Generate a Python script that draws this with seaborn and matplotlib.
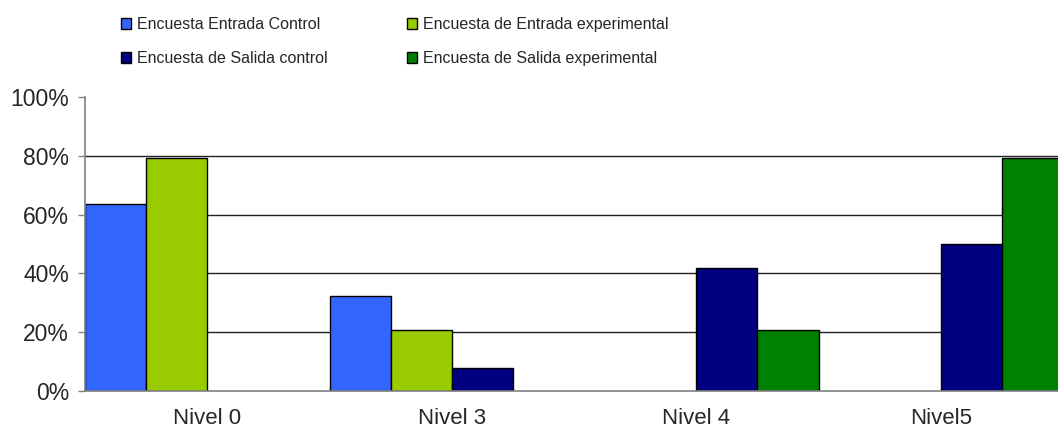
import pandas as pd
import matplotlib.pyplot as plt
import seaborn as sns

sns.set_style('white')
plt.rcParams['font.family'] = ['Liberation Sans', 'DejaVu Sans']

niveles = ['Nivel 0', 'Nivel 3', 'Nivel 4', 'Nivel5']
series = ['Encuesta Entrada Control', 'Encuesta de Entrada experimental',
          'Encuesta de Salida control', 'Encuesta de Salida experimental']
colores = ['#3366FF', '#99CC00', '#000080', '#008000']

# None = no bar for that level
entrada_control = [0.636, 0.324, None, None]
entrada_experimental = [0.792, 0.208, None, None]
salida_control = [None, 0.077, 0.417, 0.50]
salida_experimental = [None, None, 0.208, 0.792]

rows = []
for serie, vals in zip(series, [entrada_control, entrada_experimental,
                                salida_control, salida_experimental]):
    for nivel, v in zip(niveles, vals):
        if v is not None:
            rows.append({'nivel': nivel, 'serie': serie, 'valor': v})
df = pd.DataFrame(rows)

fig = plt.figure(figsize=(10.58, 4.36), dpi=100)
ax = fig.add_axes([85 / 1058, 45 / 436, 978 / 1058, 294 / 436])

sns.barplot(data=df, x='nivel', y='valor', hue='serie', order=niveles,
            hue_order=series, palette=colores, width=1.0, gap=0,
            edgecolor='black', linewidth=1.0, saturation=1, ax=ax, legend=True)

ax.set_xlim(-0.5, 3.5)
ax.set_ylim(0, 1.0)
ax.set_yticks([0, 0.2, 0.4, 0.6, 0.8, 1.0])
ax.set_yticklabels(['0%', '20%', '40%', '60%', '80%', '100%'], fontsize=16.5)
ax.set_xticks(range(4))
ax.set_xticklabels(niveles, fontsize=16)
ax.set_xticks([-0.5, 0.5, 1.5, 2.5, 3.5], minor=True)
ax.tick_params(axis='x', which='major', length=0, pad=12)
ax.tick_params(axis='x', which='minor', length=5, color='#808080', width=1)
ax.tick_params(axis='y', length=5, color='#808080', width=1, pad=6.5, left=True)
ax.set_xlabel('')
ax.set_ylabel('')

ax.yaxis.grid(True, color='#202020', linewidth=1.0)
ax.set_axisbelow(True)
ax.yaxis.get_gridlines()[-1].set_visible(False)
ax.yaxis.get_gridlines()[0].set_visible(False)

for s in ['top', 'right']:
    ax.spines[s].set_visible(False)
for s in ['left', 'bottom']:
    ax.spines[s].set_color('#808080')
    ax.spines[s].set_linewidth(1.2)

handles, labels = ax.get_legend_handles_labels()
ax.get_legend().remove()
order = [0, 2, 1, 3]
fig.legend([handles[i] for i in order], [labels[i] for i in order],
           loc='upper left', bbox_to_anchor=(121 / 1058, 1 - 17 / 436),
           ncol=2, frameon=False, fontsize=11.5, handlelength=0.65,
           handleheight=0.65, handletextpad=0.35, columnspacing=4.95,
           labelspacing=1.2, borderpad=0, borderaxespad=0)

fig.savefig('out.png', dpi=100)
